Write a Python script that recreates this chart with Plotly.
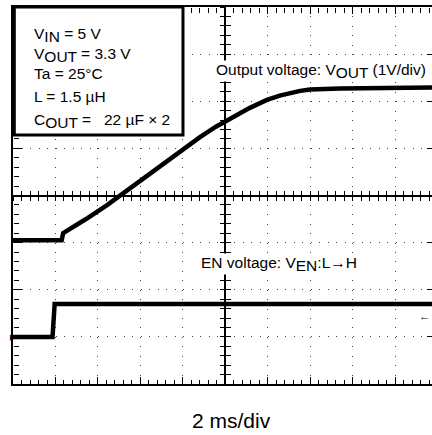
import plotly.graph_objects as go

# ---- data (time in ms, 2 ms/div; VOUT in V, 1 V/div; EN in V) ----
time_ms_vout = [0, 2.29, 2.36, 2.62, 3.40, 4.41, 5.60, 6.84, 8.00, 8.80,
                9.55, 10.30, 11.15, 11.95, 12.56, 13.51, 13.98, 15.39, 19.72]
vout_v = [0.05, 0.05, 0.20, 0.27, 0.49, 0.79, 1.18, 1.61, 1.99, 2.24,
          2.46, 2.66, 2.86, 3.03, 3.12, 3.22, 3.25, 3.27, 3.29]
time_ms_en = [0, 1.86, 1.96, 19.72]
en_v = [0, 0, 3.5, 3.5]

X_RANGE = [0, 19.72]
VOUT_RANGE = [-3, 5]
EN_RANGE = [-5, 35]

FONT = "Liberation Sans, Arial, Helvetica, sans-serif"
FS = 15.5


def sub(s):
    return f"<sub><span style='font-size:{FS}px'>{s}</span></sub>"


fig = go.Figure()
fig.add_trace(go.Scatter(x=time_ms_vout, y=vout_v, mode="lines",
                         line=dict(color="black", width=4.5),
                         xaxis="x", yaxis="y", showlegend=False,
                         hoverinfo="skip"))
fig.add_trace(go.Scatter(x=time_ms_en, y=en_v, mode="lines",
                         line=dict(color="black", width=4.5),
                         xaxis="x", yaxis="y2", showlegend=False,
                         hoverinfo="skip"))
# empty traces so the tick / crosshair axes get drawn
for xa, ya in [("x2", "y"), ("x3", "y"), ("x4", "y"), ("x5", "y"),
               ("x", "y3"), ("x", "y4"), ("x", "y5"), ("x", "y6")]:
    fig.add_trace(go.Scatter(x=[None], y=[None], mode="lines", xaxis=xa,
                             yaxis=ya, showlegend=False, hoverinfo="skip"))

common = dict(showticklabels=False, zeroline=False, tickcolor="black",
              linecolor="black", tickwidth=1.3)
POSC = 10 / X_RANGE[1]

fig.update_layout(
    width=432, height=435,
    margin=dict(l=13, r=0, t=7, b=51),
    paper_bgcolor="white", plot_bgcolor="white",
    font=dict(family=FONT, size=FS, color="black"),
    # main frame, major ticks and dotted grid
    xaxis=dict(domain=[0, 1], range=X_RANGE, tick0=0, dtick=2,
               ticks="inside", ticklen=7.5,
               showline=True, linewidth=1.5, mirror="ticks",
               showgrid=True, gridcolor="#444", gridwidth=1,
               griddash="1px,8.425px", **common),
    yaxis=dict(domain=[0, 1], range=VOUT_RANGE, tick0=0, dtick=1,
               ticks="inside", ticklen=9,
               showline=True, linewidth=1.5, mirror=False,
               showgrid=True, gridcolor="#444", gridwidth=1,
               griddash="1px,7.5px", **common),
    yaxis2=dict(overlaying="y", range=EN_RANGE, visible=False),
    # fine ticks on bottom and top frame
    xaxis4=dict(overlaying="x", anchor="free", position=0, side="bottom",
                range=X_RANGE, tick0=0, dtick=0.4, ticks="inside",
                ticklen=4.5, showline=False, showgrid=False, **common),
    xaxis5=dict(overlaying="x", anchor="free", position=1, side="top",
                range=X_RANGE, tick0=0, dtick=0.4, ticks="inside",
                ticklen=4.5, showline=False, showgrid=False, **common),
    # fine ticks on left frame
    yaxis6=dict(overlaying="y", anchor="free", position=0, side="left",
                range=VOUT_RANGE, tick0=0, dtick=0.2, ticks="inside",
                ticklen=4.5, showline=False, showgrid=False, **common),
    # centre crosshair (horizontal)
    xaxis2=dict(overlaying="x", anchor="free", position=0.5, range=X_RANGE,
                tick0=0, dtick=0.4, ticks="outside", ticklen=4.5,
                showline=True, linewidth=1.5, showgrid=False, **common),
    xaxis3=dict(overlaying="x", anchor="free", position=0.5, range=X_RANGE,
                tick0=0, dtick=0.4, ticks="inside", ticklen=4.5,
                showline=False, showgrid=False, **common),
    # centre crosshair (vertical)
    yaxis3=dict(overlaying="y", anchor="free", position=POSC,
                range=VOUT_RANGE, tick0=0, dtick=0.2, ticks="outside",
                ticklen=4.5, showline=True, linewidth=1.5, showgrid=False,
                **common),
    yaxis4=dict(overlaying="y", anchor="free", position=POSC,
                range=VOUT_RANGE, tick0=0, dtick=0.2, ticks="inside",
                ticklen=4.5, showline=False, showgrid=False, **common),
    # right edge major ticks
    yaxis5=dict(overlaying="y", anchor="free", position=1, side="right",
                range=VOUT_RANGE, tick0=0, dtick=1, ticks="inside",
                ticklen=5, showline=False, showgrid=False, **common),
)

# condition box
fig.add_shape(type="rect", xref="paper", yref="paper",
              x0=0.0031, x1=0.4057, y0=0.6605, y1=1.0,
              line=dict(color="black", width=3), fillcolor="white",
              layer="above")

# (text, pixel y of the line centre)
box_lines = [
    ("V" + sub("IN") + " = 5 V", 35.0),
    ("V" + sub("OUT") + " = 3.3 V", 54.5),
    ("Ta = 25°C", 73.5),
    ("L = 1.5 µH", 96.0),
    ("C" + sub("OUT") + " =   22 µF × 2", 121.0),
]
for txt, yc in box_lines:
    fig.add_annotation(text=txt, xref="paper", yref="paper",
                       x=(31.7 - 13) / 419, y=(384 - yc) / 377,
                       xanchor="left", yanchor="middle", showarrow=False,
                       font=dict(size=FS, family=FONT, color="black"))

fig.add_annotation(text="Output voltage: V" + sub("OUT") + " (1V/div)",
                   xref="paper", yref="paper", x=(427 - 13) / 419,
                   y=(384 - 71) / 377, xanchor="right", yanchor="middle",
                   showarrow=False, bgcolor="white", borderpad=0,
                   font=dict(size=FS, family=FONT))
fig.add_annotation(text="EN voltage: V" + sub("EN") + ":L→H",
                   xref="paper", yref="paper", x=(199.5 - 13) / 419,
                   y=(384 - 263.5) / 377, xanchor="left", yanchor="middle",
                   showarrow=False, bgcolor="white", borderpad=0,
                   font=dict(size=FS, family=FONT))
fig.add_annotation(text="2 ms/div", xref="paper", yref="paper",
                   x=(231.7 - 13) / 419, y=(384 - 420) / 377,
                   xanchor="center", yanchor="middle", showarrow=False,
                   font=dict(size=21, family=FONT))

# trigger-level marker at right edge (EN channel)
fig.add_annotation(text="←", x=19.35, y=2.25, xref="x", yref="y2",
                   xanchor="center", yanchor="middle", showarrow=False,
                   font=dict(size=11, family=FONT))
# ground marker for EN channel at left edge
fig.add_annotation(text="▸", x=0.0, y=0, xref="x", yref="y2",
                   xanchor="center", yanchor="middle", showarrow=False,
                   font=dict(size=13, family=FONT))

fig.write_html("out.html", config={"displayModeBar": False},
               post_script="document.body.style.margin='0';"
                           "document.body.style.overflow='hidden';")
